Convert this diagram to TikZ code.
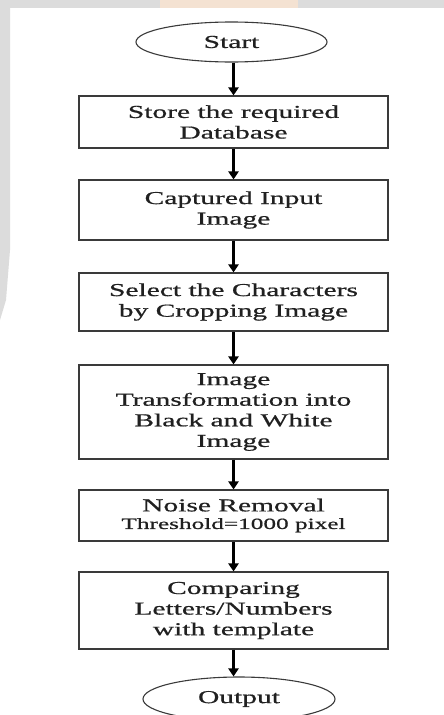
\documentclass[tikz,border=0pt]{standalone}
\usepackage{fontspec}
\usetikzlibrary{arrows.meta,shapes.geometric}
\newfontfamily\flowfont[FakeStretch=1.62,FakeBold=0.7]{Liberation Serif}
\definecolor{bandgrey}{HTML}{DCDCDC}
\definecolor{blobor}{HTML}{F4E2D2}
\definecolor{boxline}{HTML}{3A3A3A}
\definecolor{txt}{HTML}{202020}
\begin{document}
\begin{tikzpicture}[x=1pt,y=-1pt,
  flowbox/.style={draw=boxline,line width=1.1pt,rectangle,minimum width=309pt,inner sep=0pt,
    align=center,text=txt,font=\flowfont\fontsize{18.2}{20.6}\selectfont},
  term/.style={draw=boxline,line width=1.1pt,ellipse,minimum width=191pt,minimum height=40pt,inner sep=0pt,
    text=txt,font=\flowfont\fontsize{18.2}{20.6}\selectfont},
  flowarrow/.style={line width=2.3pt,-{Triangle[width=10pt,length=8pt]}}]
\useasboundingbox (0,0) rectangle (444,715);
\fill[white] (0,0) rectangle (444,715);
% background bands
\fill[bandgrey] (0,0) rectangle (444,8);
\fill[bandgrey] (0,0) -- (10,0) -- (10,250) -- (6,300) -- (0,320) -- cycle;
\fill[blobor] (160,0) rectangle (298,8);
% terminals and boxes
\node[term] (start) at (231.5,42) {Start};
\node[flowbox,minimum height=52pt] (b1) at (233.5,122) {Store the required\\Database};
\node[flowbox,minimum height=60pt] (b2) at (233.5,210) {Captured Input\\Image};
\node[flowbox,minimum height=58pt] (b3) at (233.5,302) {Select the Characters\\by Cropping Image};
\node[flowbox,minimum height=94pt] (b4) at (233.5,412) {Image\\Transformation into\\Black and White\\Image};
\node[flowbox,minimum height=51pt] (b5) at (233.5,515.5) {Noise Removal\\[-3pt]{\fontsize{15.6}{17}\selectfont Threshold=1000 pixel}};
\node[flowbox,minimum height=77pt] (b6) at (233.5,610.5) {Comparing\\Letters/Numbers\\with template};
\node[term,minimum width=192pt,minimum height=44pt] (out) at (239,699) {Output};
% connectors
\draw[flowarrow] (start.south -| b1.north) -- (b1.north);
\draw[flowarrow] (b1.south) -- (b2.north);
\draw[flowarrow] (b2.south) -- (b3.north);
\draw[flowarrow] (b3.south) -- (b4.north);
\draw[flowarrow] (b4.south) -- (b5.north);
\draw[flowarrow] (b5.south) -- (b6.north);
\draw[flowarrow] (b6.south) -- (b6.south |- out.north);
\end{tikzpicture}
\end{document}
